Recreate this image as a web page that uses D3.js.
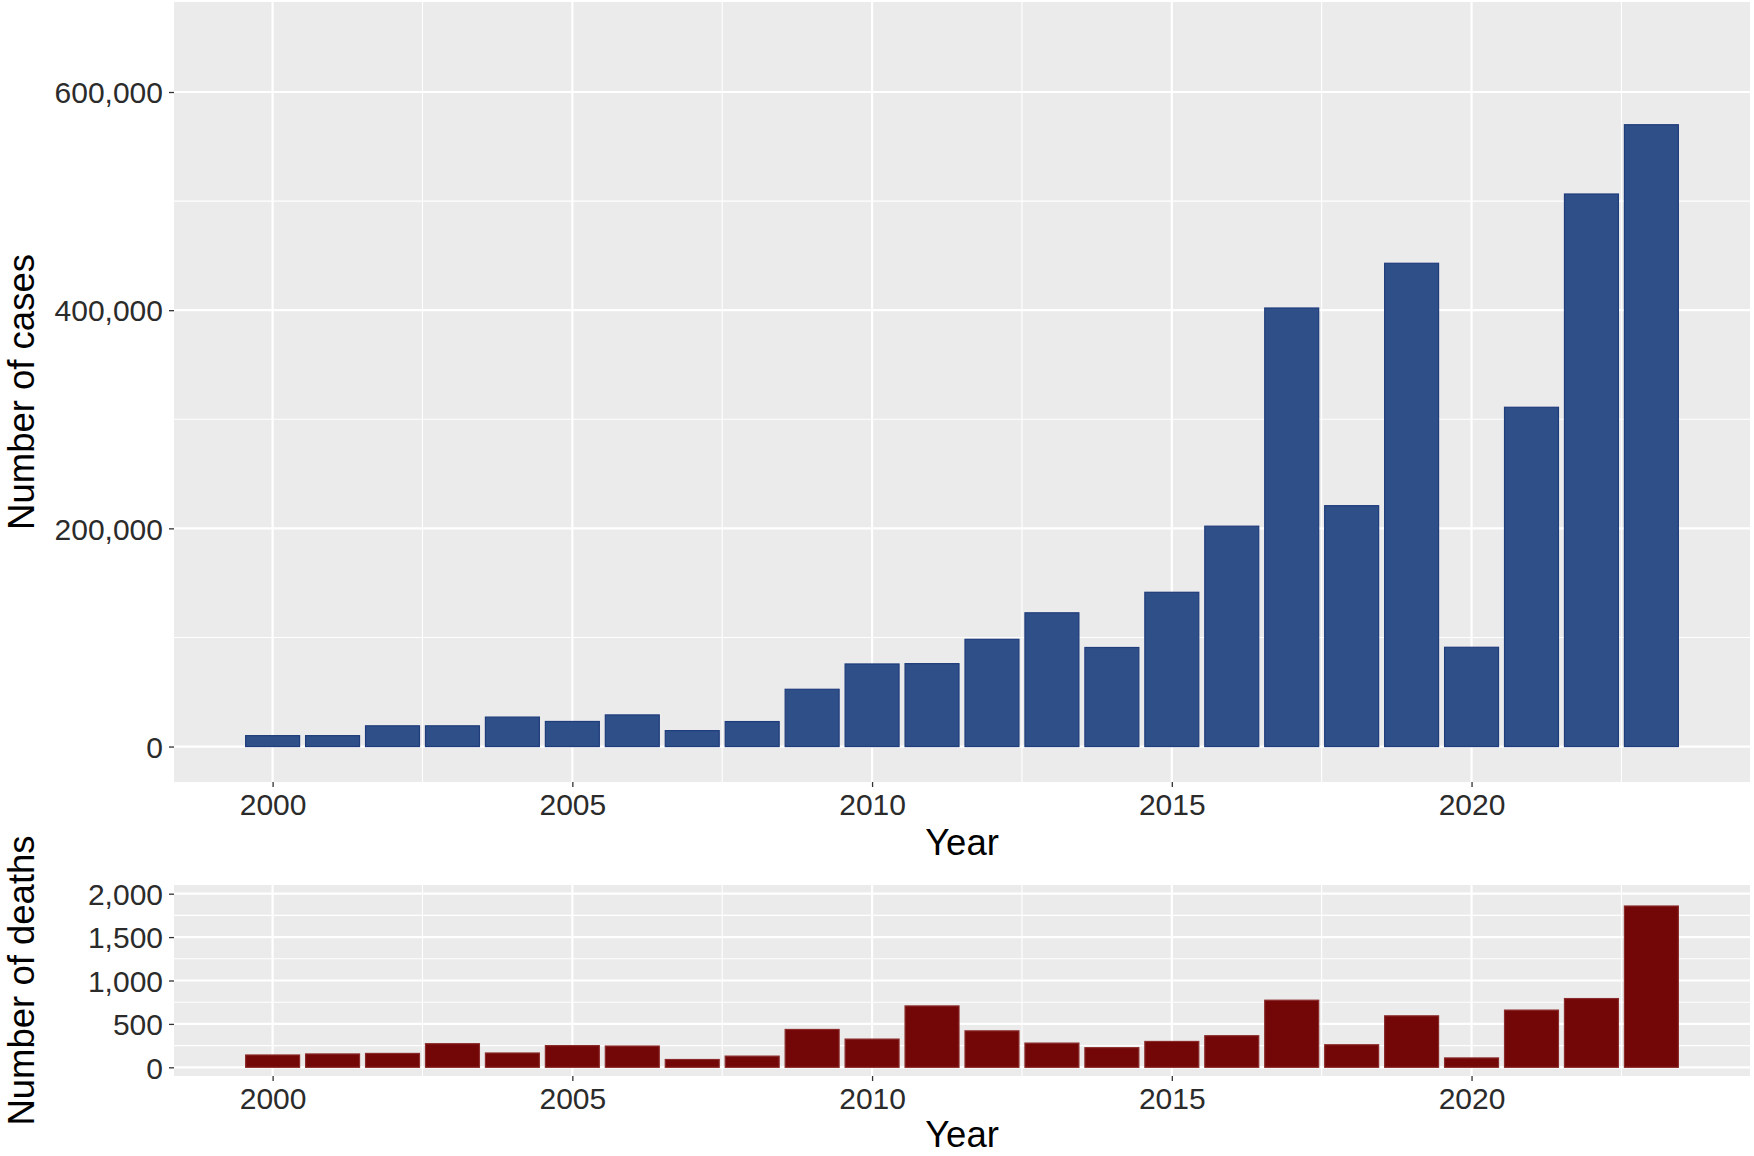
<!DOCTYPE html>
<html>
<head>
<meta charset="utf-8">
<script src="https://cdn.jsdelivr.net/npm/d3@7"></script>
<style>
  body { margin: 0; background: #fff; }
  text { font-family: "Liberation Sans", Arial, sans-serif; }
</style>
</head>
<body>
<div id="container"></div>
<script>
const years = d3.range(2000, 2024);
const cases = [10000, 10000, 19000, 19000, 27000, 23000, 29000, 14600, 22900, 52500,
    75700, 76000, 98300, 122600, 90800, 141400, 202000, 402000, 220800, 443000,
    91000, 311000, 506500, 570000];
const deaths = [142, 154, 160, 272, 165, 250, 245, 90, 129, 436,
    325, 707, 420, 279, 226, 298, 364, 773, 260, 593,
    108, 659, 792, 1858];
const xTicks = [2000, 2005, 2010, 2015, 2020];
const xMinor = [2002.5, 2007.5, 2012.5, 2017.5, 2022.5];
const caseTicks = [0, 200000, 400000, 600000];
const caseMinor = [100000, 300000, 500000];
const deathTicks = [0, 500, 1000, 1500, 2000];
const deathMinor = [250, 750, 1250, 1750];

const width = 1754, height = 1156;
const svg = d3.select('#container')
    .append("svg")
    .attr("width", width)
    .attr("height", height);

const left = 174, right = 1750;
const x = d3.scaleLinear().domain([1998.355, 2024.645]).range([left, right]);
const fmt = d3.format(",");

function panel(top, bottom, domain, values, major, minor, fill, stroke, ytitle, xtitleY) {
    const y = d3.scaleLinear().domain(domain).range([bottom, top]);
    const g = svg.append("g");

    g.append("rect")
        .attr("x", left).attr("y", top)
        .attr("width", right - left).attr("height", bottom - top)
        .attr("fill", "#EBEBEB");

    // minor grid
    g.selectAll(".hminor").data(minor).enter().append("line")
        .attr("x1", left).attr("x2", right)
        .attr("y1", d => y(d)).attr("y2", d => y(d))
        .attr("stroke", "#fff").attr("stroke-width", 1.1);
    g.selectAll(".vminor").data(xMinor).enter().append("line")
        .attr("x1", d => x(d)).attr("x2", d => x(d))
        .attr("y1", top).attr("y2", bottom)
        .attr("stroke", "#fff").attr("stroke-width", 1.1);
    // major grid
    g.selectAll(".hmajor").data(major).enter().append("line")
        .attr("x1", left).attr("x2", right)
        .attr("y1", d => y(d)).attr("y2", d => y(d))
        .attr("stroke", "#fff").attr("stroke-width", 2.2);
    g.selectAll(".vmajor").data(xTicks).enter().append("line")
        .attr("x1", d => x(d)).attr("x2", d => x(d))
        .attr("y1", top).attr("y2", bottom)
        .attr("stroke", "#fff").attr("stroke-width", 2.2);

    // bars
    g.selectAll(".bar").data(values).enter().append("rect")
        .attr("x", (d, i) => x(years[i] - 0.45))
        .attr("width", (d, i) => x(years[i] + 0.45) - x(years[i] - 0.45))
        .attr("y", d => y(d))
        .attr("height", d => y(0) - y(d))
        .attr("fill", fill)
        .attr("stroke", stroke)
        .attr("stroke-width", 1.2);

    // y axis
    const yAxis = g.append("g")
        .attr("transform", "translate(" + left + ",0)")
        .call(d3.axisLeft(y).tickValues(major).tickFormat(fmt).tickSize(5).tickPadding(6));
    yAxis.select(".domain").remove();
    yAxis.selectAll("line").attr("stroke", "#333").attr("stroke-width", 1.3);
    yAxis.selectAll("text").attr("fill", "#2b2b2b").style("font-size", "30px")
        .attr("dy", "0.36em");

    // x axis
    const xAxis = g.append("g")
        .attr("transform", "translate(0," + bottom + ")")
        .call(d3.axisBottom(x).tickValues(xTicks).tickFormat(d3.format("d")).tickSize(5).tickPadding(6));
    xAxis.select(".domain").remove();
    xAxis.selectAll("line").attr("stroke", "#333").attr("stroke-width", 1.3);
    xAxis.selectAll("text").attr("fill", "#2b2b2b").style("font-size", "30px")
        .attr("dy", "0.72em");

    g.append("text")
        .attr("x", (left + right) / 2)
        .attr("y", xtitleY)
        .attr("text-anchor", "middle")
        .style("font-size", "36.5px")
        .attr("fill", "#000")
        .text("Year");

    g.append("text")
        .attr("transform", "translate(34," + ((top + bottom) / 2) + ") rotate(-90)")
        .attr("text-anchor", "middle")
        .style("font-size", "36.5px")
        .attr("fill", "#000")
        .text(ytitle);
}

panel(2, 782, [-32500, 682500], cases, caseTicks, caseMinor, "#2F4F88", "#1F3C7C", "Number of cases", 855);
panel(885, 1076, [-100, 2100], deaths, deathTicks, deathMinor, "#730606", "#8a2a2a", "Number of deaths", 1147);
</script>
</body>
</html>
